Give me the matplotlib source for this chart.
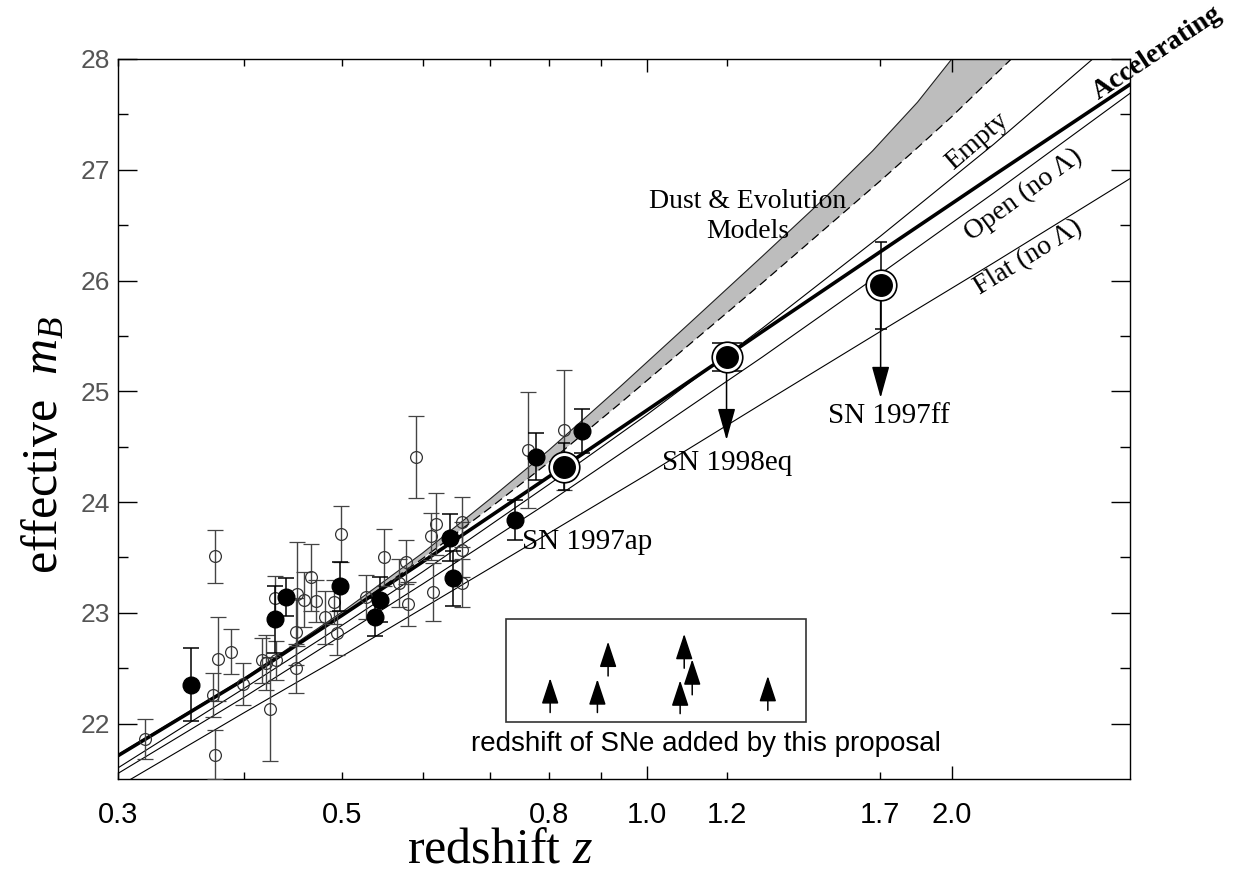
import numpy as np
import matplotlib.pyplot as plt
from matplotlib.patches import Rectangle

plt.rcParams['mathtext.fontset'] = 'custom'
plt.rcParams['mathtext.rm'] = 'Liberation Serif'
plt.rcParams['mathtext.it'] = 'Liberation Serif:italic'

# model curves
model_z = [0.3, 0.4, 0.5, 0.6, 0.8, 1.0, 1.3, 1.7, 2.2, 3.0]
flat_m = [21.43, 22.10, 22.61, 23.04, 23.72, 24.25, 24.89, 25.54, 26.16, 26.92]
open_m = [21.55, 22.24, 22.80, 23.26, 24.00, 24.60, 25.31, 26.06, 26.79, 27.69]
empty_m = [21.60, 22.32, 22.89, 23.37, 24.16, 24.79, 25.57, 26.40, 27.23, 28.29]
accel_m = [21.71, 22.40, 22.98, 23.46, 24.23, 24.83, 25.54, 26.26, 26.95, 27.77]

# dust & evolution band edges
dust_hi_z = [0.3, 0.4, 0.5, 0.6, 0.7, 0.8, 0.94, 1.1, 1.3, 1.5, 1.67, 1.85, 2.0, 2.2]
dust_hi_m = [21.72, 22.41, 23.01, 23.54, 24.03, 24.47, 25.04, 25.61, 26.22, 26.75,
             27.17, 27.61, 28.00, 28.50]
dust_lo_z = [0.3, 0.4, 0.5, 0.6, 0.7, 0.8, 0.94, 1.1, 1.3, 1.5, 1.7, 1.84, 2.0, 2.29, 2.5]
dust_lo_m = [21.71, 22.40, 22.98, 23.49, 23.95, 24.36, 24.89, 25.42, 25.98, 26.47,
             26.90, 27.18, 27.48, 28.00, 28.36]

# open circles
open_z = [0.319, 0.374, 0.374, 0.372, 0.377, 0.388, 0.399, 0.416, 0.420, 0.424,
          0.429, 0.430, 0.450, 0.450, 0.451, 0.458, 0.465, 0.471, 0.480, 0.491,
          0.494, 0.498, 0.527, 0.550, 0.569, 0.578, 0.581, 0.591, 0.612, 0.614,
          0.619, 0.656, 0.656, 0.656, 0.762, 0.828]
open_mag = [21.86, 23.51, 21.72, 22.26, 22.58, 22.65, 22.36, 22.57, 22.55, 22.13,
            23.13, 22.57, 22.83, 22.50, 23.17, 23.12, 23.32, 23.11, 22.96, 23.10,
            22.82, 23.71, 23.14, 23.50, 23.27, 23.46, 23.08, 24.41, 23.69, 23.19,
            23.80, 23.82, 23.57, 23.27, 24.47, 24.65]
open_err = [0.18, 0.24, 0.22, 0.20, 0.38, 0.20, 0.19, 0.20, 0.25, 0.47,
            0.20, 0.18, 0.30, 0.22, 0.47, 0.25, 0.30, 0.19, 0.24, 0.20,
            0.20, 0.25, 0.20, 0.26, 0.22, 0.20, 0.20, 0.37, 0.21, 0.26,
            0.28, 0.23, 0.25, 0.22, 0.52, 0.54]

# filled circles
fill_z = [0.354, 0.429, 0.440, 0.497, 0.538, 0.545, 0.638, 0.643, 0.740, 0.776, 0.862]
fill_mag = [22.35, 22.94, 23.14, 23.24, 22.96, 23.12, 23.68, 23.31, 23.84, 24.41, 24.64]
fill_err = [0.33, 0.30, 0.17, 0.22, 0.17, 0.20, 0.21, 0.25, 0.18, 0.21, 0.20]

# HST supernovae (big symbols)
big_z = [0.828, 1.198, 1.701]
big_mag = [24.32, 25.31, 25.96]
big_err_lo = [0.21, 0.13, 0.40]
big_err_hi = [0.21, 0.13, 0.39]
big_caps = [4.5, 11, 4.5]
arrow_z = [1.198, 1.701]
arrow_from = [25.31, 25.96]
arrow_tip = [24.56, 24.94]

# redshifts of SNe added by the proposal (inset)
inset_z = [0.802, 0.893, 0.915, 1.078, 1.088, 1.108, 1.316]
inset_tail = [22.10, 22.10, 22.43, 22.09, 22.50, 22.26, 22.12]
inset_tip = [22.41, 22.40, 22.74, 22.39, 22.81, 22.58, 22.43]

fig = plt.figure(figsize=(12.43, 8.83), dpi=100)
ax = fig.add_axes([0.0949, 0.1178, 0.8142, 0.8154])
ax.set_xscale('log')
ax.set_xlim(0.3, 3.0)
ax.set_ylim(21.5, 28)

# band
band_z = dust_hi_z + dust_lo_z[::-1]
band_m = dust_hi_m + dust_lo_m[::-1]
ax.fill(band_z, band_m, color='#bdbdbd', lw=0, zorder=1)
ax.plot(dust_hi_z, dust_hi_m, color='#222222', lw=0.8, zorder=2)
ax.plot(dust_lo_z, dust_lo_m, color='black', lw=0.9, ls=(0, (7, 4)), zorder=2)

# models
ax.plot(model_z, flat_m, color='black', lw=0.8, zorder=2)
ax.plot(model_z, open_m, color='black', lw=0.8, zorder=2)
ax.plot(model_z, empty_m, color='black', lw=0.8, zorder=2)
ax.plot(model_z, accel_m, color='black', lw=2.6, zorder=3)

# data
ax.errorbar(open_z, open_mag, yerr=open_err, fmt='o', ms=8.5, mfc='none', mec='#333333',
            mew=0.9, ecolor='#444444', elinewidth=1.0, capsize=6, capthick=1.0, zorder=4)
ax.errorbar(fill_z, fill_mag, yerr=fill_err, fmt='o', ms=12, mfc='black', mec='black',
            ecolor='black', elinewidth=1.1, capsize=6, capthick=1.1, zorder=5)
for z, m, lo, hi, cs in zip(big_z, big_mag, big_err_lo, big_err_hi, big_caps):
    ax.errorbar([z], [m], yerr=[[lo], [hi]], fmt='none', ecolor='black',
                elinewidth=1.1, capsize=cs, capthick=1.1, zorder=5)
ax.plot(big_z, big_mag, 'o', ms=22, mfc='white', mec='black', mew=1.2, zorder=6)
ax.plot(big_z, big_mag, 'o', ms=15.5, mfc='black', mec='black', zorder=7)
for z, m0, m1 in zip(arrow_z, arrow_from, arrow_tip):
    ax.annotate('', xy=(z, m1), xytext=(z, m0),
                arrowprops=dict(arrowstyle='-|>,head_length=0.9,head_width=0.25',
                                mutation_scale=22, lw=1.1, color='black',
                                shrinkA=0, shrinkB=0), zorder=5)

# inset box
ax.add_patch(Rectangle((0.726, 22.018), 1.436 - 0.726, 22.946 - 22.018, fill=False,
                       ec='#333333', lw=1.2, zorder=3))
for z, m0, m1 in zip(inset_z, inset_tail, inset_tip):
    ax.annotate('', xy=(z, m1), xytext=(z, m0),
                arrowprops=dict(arrowstyle='-|>,head_length=1.0,head_width=0.33',
                                mutation_scale=16, lw=1.1, color='black',
                                shrinkA=0, shrinkB=0), zorder=5)
ax.text(1.144, 21.82, 'redshift of SNe added by this proposal', fontsize=20,
        family='Liberation Sans', ha='center', va='center')

# axes, ticks
ax.set_xticks([1.0, 2.0], ['1.0', '2.0'])
ax.set_xticks([0.3, 0.4, 0.5, 0.6, 0.7, 0.8, 0.9, 1.2, 1.7],
              ['0.3', '', '0.5', '', '', '0.8', '', '1.2', '1.7'], minor=True)
ax.set_yticks(range(22, 29))
ax.set_yticks(np.arange(22.5, 28, 1.0), minor=True)
ax.tick_params(axis='x', which='both', direction='in', top=True, pad=16,
               labelsize=21, width=1)
ax.tick_params(axis='x', which='major', length=9.5)
ax.tick_params(axis='x', which='minor', length=5)
ax.tick_params(axis='y', which='both', direction='in', right=True, pad=6,
               labelsize=19, labelcolor='#555555', width=1)
ax.tick_params(axis='y', which='major', length=13.5)
ax.tick_params(axis='y', which='minor', length=7)
for lab in ax.get_xticklabels(which='both') + ax.get_yticklabels():
    lab.set_family('Liberation Sans')
for s in ax.spines.values():
    s.set_linewidth(1.0)

fig.text(45 / 1243, 1 - 445 / 883, 'effective  $m_B$', rotation=90, fontsize=36,
         family='Liberation Serif', ha='center', va='center')
fig.text(500 / 1243, 1 - 850 / 883, 'redshift $z$', fontsize=36,
         family='Liberation Serif', ha='center', va='center')

# curve labels, rotated along their lines
def line_angle(zs, ms, i):
    p0, p1 = ax.transData.transform([(zs[i], ms[i]), (zs[i + 1], ms[i + 1])])
    return np.degrees(np.arctan2(p1[1] - p0[1], p1[0] - p0[0]))

serif = 'Liberation Serif'
ax.text(2.117, 27.26, 'Empty', fontsize=20, family=serif, ha='center', va='center',
        rotation=line_angle(model_z, empty_m, 8), rotation_mode='anchor')
ax.text(2.357, 26.77, 'Open (no Λ)', fontsize=20, family=serif, ha='center', va='center',
        rotation=line_angle(model_z, open_m, 8), rotation_mode='anchor')
ax.text(2.383, 26.21, 'Flat (no Λ)', fontsize=20, family=serif, ha='center', va='center',
        rotation=line_angle(model_z, flat_m, 8), rotation_mode='anchor')
ax.text(3.19, 28.05, 'Accelerating', fontsize=20, family=serif, weight='bold',
        ha='center', va='center', rotation=line_angle(model_z, accel_m, 8),
        rotation_mode='anchor', clip_on=False)
ax.text(1.257, 26.58, 'Dust & Evolution\nModels', fontsize=20, family=serif,
        ha='center', va='center', linespacing=1.25)
ax.text(0.753, 23.64, 'SN 1997ap', fontsize=21, family=serif, ha='left', va='center')
ax.text(1.035, 24.35, 'SN 1998eq', fontsize=21, family=serif, ha='left', va='center')
ax.text(1.733, 24.78, 'SN 1997ff', fontsize=21, family=serif, ha='center', va='center')

fig.savefig('out.png', dpi=100)
